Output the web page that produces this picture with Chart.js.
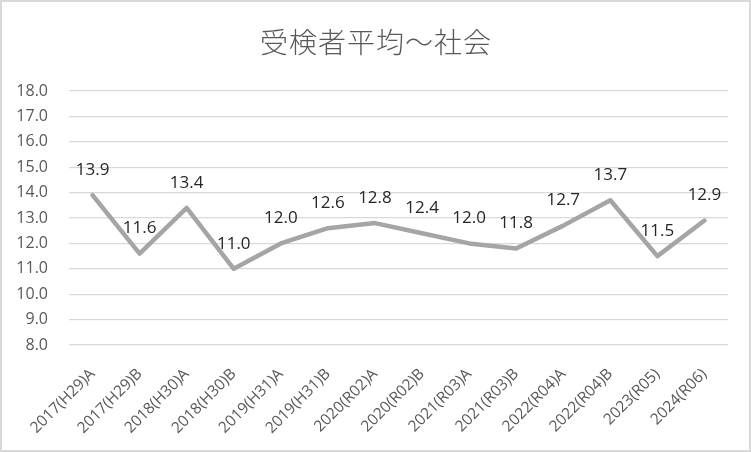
<!DOCTYPE html>
<html>
<head>
<meta charset="utf-8">
<script src="https://cdn.jsdelivr.net/npm/chart.js@4/dist/chart.umd.min.js"></script>
<style>
  html, body { margin: 0; padding: 0; background: #fff; }
  #wrap { width: 751px; height: 452px; position: relative; }
</style>
</head>
<body>
<div id="wrap"><canvas id="c" width="751" height="452"></canvas></div>
<script>
// Exam sessions (year, era year, round)
const categories = [
  '2017(H29)A', '2017(H29)B', '2018(H30)A', '2018(H30)B',
  '2019(H31)A', '2019(H31)B', '2020(R02)A', '2020(R02)B',
  '2021(R03)A', '2021(R03)B', '2022(R04)A', '2022(R04)B',
  '2023(R05)', '2024(R06)'
];

// Average score of examinees in social studies
const averageScores = [13.9, 11.6, 13.4, 11.0, 12.0, 12.6, 12.8, 12.4, 12.0, 11.8, 12.7, 13.7, 11.5, 12.9];

// Value axis range
const yMin = 8.0;
const yMax = 18.0;
const yStep = 1.0;

const chartTitle = '受検者平均～社会';

const frameAndTitle = {
  id: 'frameAndTitle',
  beforeDraw(chart) {
    const ctx = chart.ctx;
    ctx.save();
    ctx.fillStyle = '#ffffff';
    ctx.fillRect(0, 0, chart.width, chart.height);
    ctx.strokeStyle = '#d9d9d9';
    ctx.lineWidth = 2;
    ctx.strokeRect(1, 1, chart.width - 2, chart.height - 2);
    ctx.restore();
  },
  afterDraw(chart) {
    const ctx = chart.ctx;
    ctx.save();
    ctx.fillStyle = '#595959';
    ctx.font = '300 28px "Noto Sans CJK JP"';
    ctx.textAlign = 'center';
    ctx.textBaseline = 'middle';
    if ('letterSpacing' in ctx) ctx.letterSpacing = '1px';
    ctx.fillText(chartTitle, 376, 42);
    ctx.restore();
  }
};

const valueLabels = {
  id: 'valueLabels',
  afterDatasetsDraw(chart) {
    const ctx = chart.ctx;
    const meta = chart.getDatasetMeta(0);
    const data = chart.data.datasets[0].data;
    ctx.save();
    ctx.fillStyle = '#262626';
    ctx.font = '17px "Open Sans", "Noto Sans", sans-serif';
    ctx.textAlign = 'center';
    ctx.textBaseline = 'middle';
    meta.data.forEach((pt, i) => {
      ctx.fillText(Number(data[i]).toFixed(1), pt.x, pt.y - 25);
    });
    ctx.restore();
  }
};

new Chart(document.getElementById('c'), {
  type: 'line',
  data: {
    labels: categories,
    datasets: [{
      data: averageScores,
      borderColor: '#a5a5a5',
      borderWidth: 4.5,
      borderJoinStyle: 'round',
      borderCapStyle: 'round',
      pointRadius: 0,
      pointHoverRadius: 0,
      tension: 0,
      fill: false
    }]
  },
  options: {
    responsive: false,
    animation: false,
    events: [],
    layout: { padding: { top: 91, right: 23, left: 0, bottom: 0 } },
    plugins: {
      legend: { display: false },
      title: { display: false },
      tooltip: { enabled: false }
    },
    scales: {
      x: {
        offset: true,
        grid: { display: false, drawTicks: false },
        border: { display: false },
        ticks: {
          minRotation: 45,
          maxRotation: 45,
          autoSkip: false,
          padding: 20,
          color: '#595959',
          font: { family: '"Open Sans", "Noto Sans", sans-serif', size: 15.5 }
        },
        afterFit(scale) { scale.height = 107; }
      },
      y: {
        min: yMin,
        max: yMax,
        grid: { color: '#d9d9d9', lineWidth: 1.3, drawTicks: false },
        border: { display: false },
        ticks: {
          stepSize: yStep,
          padding: 21,
          color: '#595959',
          font: { family: '"Open Sans", "Noto Sans", sans-serif', size: 16 },
          callback: (v) => Number(v).toFixed(1)
        },
        afterFit(scale) { scale.width = 69; }
      }
    }
  },
  plugins: [frameAndTitle, valueLabels]
});
</script>
</body>
</html>
